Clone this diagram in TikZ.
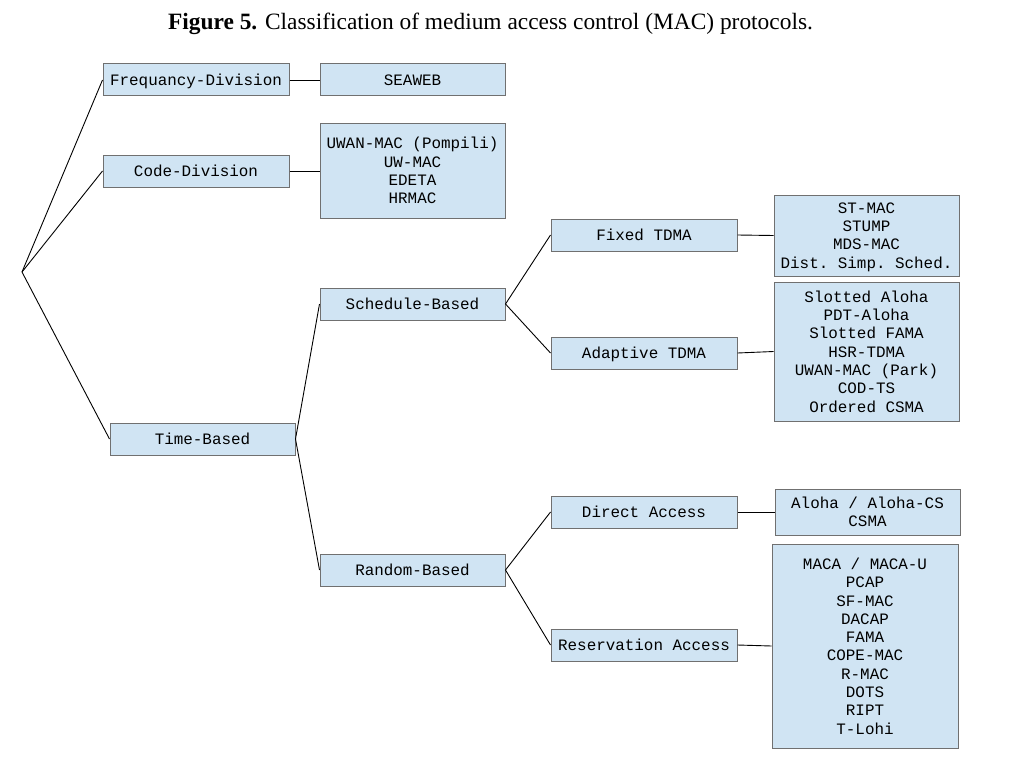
\documentclass[tikz,border=0pt]{standalone}
\usepackage{fontspec}
\setmainfont{Liberation Serif}
\setmonofont{Liberation Mono}
\definecolor{boxfill}{RGB}{208,228,243}
\definecolor{boxline}{RGB}{112,112,112}
\begin{document}
\begin{tikzpicture}[x=1pt,y=-1pt,
  box/.style={draw=boxline, fill=boxfill, line width=1pt, inner sep=0pt, align=center,
    font=\fontsize{15.9}{18.3}\selectfont\ttfamily, text depth=0pt},
  conn/.style={draw=black, line width=0.9pt}]
\useasboundingbox (0,0) rectangle (1032,773);
\node (title) at (490.5,24) {\fontsize{23.4}{28}\selectfont\textbf{Figure 5.} Classification of medium access control (MAC) protocols.};
\coordinate (root) at (22,272);
\node[box, minimum width=186, minimum height=32] (freq) at (196,80) {Frequancy-Division};
\node[box, minimum width=185, minimum height=32] (seaweb) at (412.5,80) {SEAWEB};
\node[box, minimum width=186, minimum height=32] (code) at (196,171) {Code-Division};
\node[box, minimum width=185, minimum height=95] (cdlist) at (412.5,170.5) {UWAN-MAC (Pompili)\\UW-MAC\\EDETA\\HRMAC};
\node[box, minimum width=185, minimum height=32] (time) at (202.5,439) {Time-Based};
\node[box, minimum width=185, minimum height=32] (sched) at (412.5,304) {Schedule-Based};
\node[box, minimum width=185, minimum height=32] (rand) at (412.5,570) {Random-Based};
\node[box, minimum width=186, minimum height=32] (fixed) at (644,235) {Fixed TDMA};
\node[box, minimum width=186, minimum height=32] (adapt) at (644,353) {Adaptive TDMA};
\node[box, minimum width=186, minimum height=32] (direct) at (644,512) {Direct Access};
\node[box, minimum width=186, minimum height=32] (resv) at (644,645) {Reservation Access};
\node[box, minimum width=185, minimum height=81] (fixlist) at (866.5,235.5) {ST-MAC\\STUMP\\MDS-MAC\\Dist. Simp. Sched.};
\node[box, minimum width=185, minimum height=139] (adlist) at (866.5,351.5) {Slotted Aloha\\PDT-Aloha\\Slotted FAMA\\HSR-TDMA\\UWAN-MAC (Park)\\COD-TS\\Ordered CSMA};
\node[box, minimum width=185, minimum height=46] (dirlist) at (867.5,512) {Aloha / Aloha-CS\\CSMA};
\node[box, minimum width=186, minimum height=204] (reslist) at (865,646) {MACA / MACA-U\\PCAP\\SF-MAC\\DACAP\\FAMA\\COPE-MAC\\R-MAC\\DOTS\\RIPT\\T-Lohi};
\draw[conn] (root) -- (freq.west);
\draw[conn] (root) -- (code.west);
\draw[conn] (root) -- (time.west);
\draw[conn] (time.east) -- (sched.west);
\draw[conn] (time.east) -- (rand.west);
\draw[conn] (sched.east) -- (fixed.west);
\draw[conn] (sched.east) -- (adapt.west);
\draw[conn] (rand.east) -- (direct.west);
\draw[conn] (rand.east) -- (resv.west);
\draw[conn] (freq.east) -- (seaweb.west);
\draw[conn] (code.east) -- (code.east -| cdlist.west);
\draw[conn] (fixed.east) -- (fixlist.west);
\draw[conn] (adapt.east) -- (adlist.west);
\draw[conn] (direct.east) -- (dirlist.west);
\draw[conn] (resv.east) -- (reslist.west);
\end{tikzpicture}
\end{document}
